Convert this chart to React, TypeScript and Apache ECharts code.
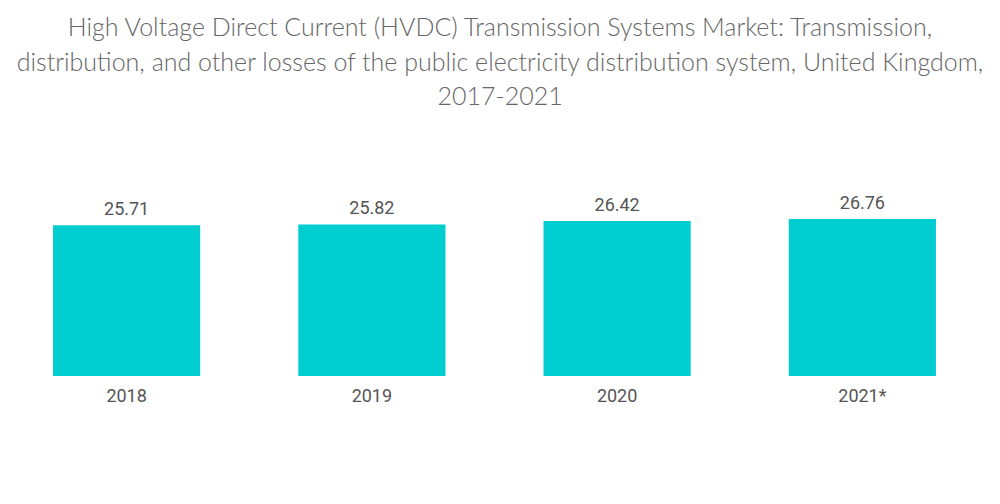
import React, { useEffect, useRef } from "react";
import * as echarts from "echarts";

const categories = ["2018", "2019", "2020", "2021*"];
const values = [25.71, 25.82, 26.42, 26.76];
const titleText =
  "High Voltage Direct Current (HVDC) Transmission Systems Market: Transmission,\ndistribution, and other losses of the public electricity distribution system, United Kingdom,\n2017-2021";

export default function App() {
  const ref = useRef<HTMLDivElement>(null);
  useEffect(() => {
    if (!ref.current) return;
    const chart = echarts.init(ref.current, undefined, { renderer: "svg" });
    chart.setOption({
      animation: false,
      title: {
        text: titleText,
        left: "center",
        top: 4,
        textStyle: {
          fontFamily: "Lato",
          fontWeight: 300,
          fontSize: 25,
          lineHeight: 34.5,
          color: "#666666",
        },
      },
      grid: { left: 4, right: 15, top: 200, bottom: 128 },
      xAxis: {
        type: "category",
        data: categories,
        axisLine: { show: false },
        axisTick: { show: false },
        axisLabel: {
          fontFamily: "Roboto",
          fontSize: 18,
          color: "#555555",
          margin: 10,
        },
      },
      yAxis: {
        type: "value",
        min: 0,
        max: 30,
        show: false,
        splitLine: { show: false },
      },
      series: [
        {
          type: "bar",
          data: values,
          barWidth: "60%",
          itemStyle: { color: "#00CDD0" },
          label: {
            show: true,
            position: "top",
            distance: 8,
            fontFamily: "Roboto",
            fontSize: 18,
            color: "#555555",
          },
        },
      ],
    });
    return () => chart.dispose();
  }, []);
  return (
    <div
      ref={ref}
      style={{ position: "absolute", left: 0, top: 0, width: 1000, height: 504 }}
    />
  );
}
